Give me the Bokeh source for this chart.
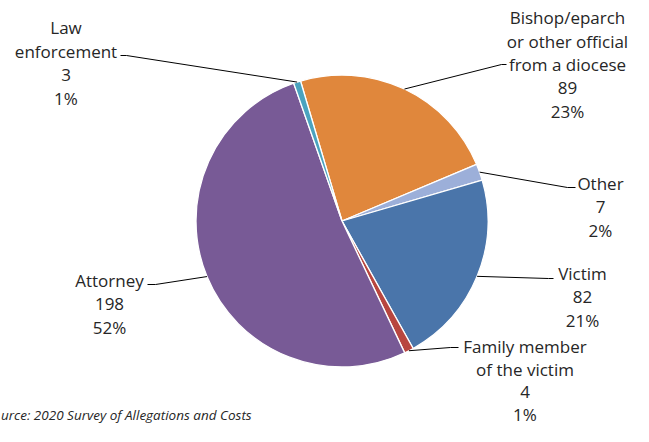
import math
from bokeh.plotting import figure
from bokeh.models import Range1d, ColumnDataSource
from bokeh.embed import file_html
from bokeh.resources import INLINE
from bokeh.core.properties import value

# ---- data ----
categories = ["Bishop/eparch\nor other official\nfrom a diocese", "Other", "Victim",
              "Family member\nof the victim", "Attorney", "Law\nenforcement"]
counts = [89, 7, 82, 4, 198, 3]
source_note = "urce: 2020 Survey of Allegations and Costs"

# ---- styles / layout ----
colors = ["#E0873C", "#9CAFD9", "#4A75AA", "#B8463F", "#785A96", "#4AA3BF"]
W, H = 633, 426
CX, CY, R = 341.5, 220.5, 146      # pixel coordinates from top-left
START = -16.5                      # degrees clockwise from 12 o'clock
FONT = "Open Sans"
FONT_SIZE = "17px"
TEXT_COLOR = "#262626"
label_pos = [(567, 17), (600, 183), (582, 273), (524.5, 346), (109, 280), (65.5, 27)]
line_h = [23.5, 23.5, 23.5, 22.5, 23.5, 23.5]
elbows = [[(506, 64), (501, 64)], [(575, 187), (567, 187)], [(553, 278), (548, 278)],
          [(458, 347), (450, 347)], [(147, 284), (155, 284)], [(120, 55), (126, 55)]]


def Y(y):
    return H - y


total = sum(counts)
p = figure(width=W, height=H, x_range=Range1d(0, W), y_range=Range1d(0, H),
           output_backend="svg", toolbar_location=None, x_axis_location=None,
           y_axis_location=None, min_border=0, outline_line_color=None)
p.grid.visible = False
p.background_fill_color = "white"
p.border_fill_color = "white"

# wedges
starts, ends, mids = [], [], []
acc = START
for c in counts:
    th0 = acc
    th1 = acc + c / total * 360.0
    starts.append(math.radians(90 - th0))
    ends.append(math.radians(90 - th1))
    mids.append((th0 + th1) / 2)
    acc = th1

src = ColumnDataSource(dict(start=starts, end=ends, color=colors))
p.wedge(x=CX, y=Y(CY), radius=R, start_angle="start", end_angle="end", direction="clock",
        fill_color="color", line_color="white", line_width=1.3, source=src)

# leader lines
xs, ys = [], []
for el, m in zip(elbows, mids):
    ex = CX + R * math.sin(math.radians(m))
    ey = CY - R * math.cos(math.radians(m))
    pts = el + [(ex, ey)]
    xs.append([q[0] for q in pts])
    ys.append([Y(q[1]) for q in pts])
p.multi_line(xs=xs, ys=ys, line_color="black", line_width=1)

# labels
tx, ty, tt = [], [], []
for name, c, (lx, ly), lh in zip(categories, counts, label_pos, line_h):
    pct = round(c / total * 100)
    lines = name.split("\n") + [str(c), f"{pct}%"]
    for i, ln in enumerate(lines):
        tx.append(lx)
        ty.append(Y(ly + i * lh))
        tt.append(ln)
p.text(x=tx, y=ty, text=tt, text_align="center", text_baseline="middle",
       text_font=value(FONT), text_font_size=FONT_SIZE, text_color=TEXT_COLOR)

p.text(x=[0.5], y=[Y(414)], text=[source_note], text_align="left", text_baseline="middle",
       text_font=value(FONT), text_font_size="13.5px", text_font_style="italic",
       text_color=TEXT_COLOR)

open("out.html", "w").write(file_html(p, INLINE))
